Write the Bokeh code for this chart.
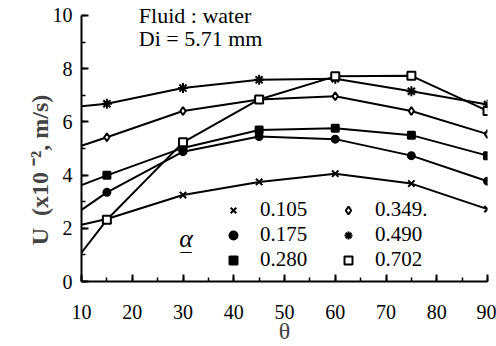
from bokeh.plotting import figure
from bokeh.models import Range1d, Legend, LegendItem, Label, FixedTicker
from bokeh.embed import file_html
from bokeh.resources import INLINE

# ---- data ----
theta = [10, 15, 30, 45, 60, 75, 90]
alpha_labels = ["0.105", "0.175", "0.280", "0.349.", "0.490", "0.702"]
u_0105 = [2.13, 2.35, 3.25, 3.74, 4.05, 3.68, 2.72]
u_0175 = [2.69, 3.35, 4.88, 5.45, 5.35, 4.73, 3.77]
u_0280 = [3.62, 3.99, 5.02, 5.69, 5.76, 5.50, 4.73]
u_0349 = [5.10, 5.42, 6.41, 6.84, 6.96, 6.41, 5.54]
u_0490 = [6.59, 6.68, 7.27, 7.58, 7.62, 7.15, 6.65]
u_0702 = [1.08, 2.32, 5.23, 6.84, 7.71, 7.73, 6.41]
x_ticks = [10, 20, 30, 40, 50, 60, 70, 80, 90]
y_ticks = [0, 2, 4, 6, 8, 10]

series = [u_0105, u_0175, u_0280, u_0349, u_0490, u_0702]
markers = ["x", "circle", "square", "diamond", "asterisk", "square"]
fills = ["black", "black", "black", "white", "black", "white"]
sizes = [9, 7, 7, 8, 10, 8]

FONT = "Liberation Serif"

p = figure(width=496, height=346, output_backend="svg", toolbar_location=None,
           x_range=Range1d(10, 90), y_range=Range1d(0, 10.41),
           min_border_left=81, min_border_right=9, min_border_top=4,
           min_border_bottom=62)
p.outline_line_color = None
p.xgrid.visible = False
p.ygrid.visible = False
p.background_fill_color = "white"

items = []
for vals, mk, fc, sz, lab in zip(series, markers, fills, sizes, alpha_labels):
    p.line(theta, vals, line_color="black", line_width=2)
    r = p.scatter(theta[1:], vals[1:], marker=mk, size=sz, line_color="black",
                  fill_color=fc, line_width=2)
    items.append(LegendItem(label=lab, renderers=[r]))

legend = Legend(items=items, location=(142, 9), ncols=2,
                label_text_font=FONT, label_text_font_size="21px",
                label_text_color="black", label_text_line_height=0.8,
                background_fill_alpha=0, border_line_color=None,
                glyph_width=20, glyph_height=20, label_standoff=17,
                label_width=78, label_height=16, spacing=-4, padding=0, margin=0)
p.add_layout(legend)

p.axis.axis_line_width = 2
p.axis.axis_line_color = "black"
p.axis.major_tick_in = 7
p.axis.major_tick_out = 0
p.axis.minor_tick_in = 4
p.axis.minor_tick_out = 0
p.axis.major_tick_line_width = 2
p.axis.minor_tick_line_width = 1.5
for ax in p.xaxis + p.yaxis:
    ax.major_label_text_font = FONT
    ax.major_label_text_font_style = "normal"
    ax.major_label_text_font_size = "20px"
    ax.major_label_text_color = "black"

p.xaxis.ticker = FixedTicker(ticks=x_ticks, minor_ticks=list(range(10, 91, 5)))
p.yaxis.ticker = FixedTicker(ticks=y_ticks, minor_ticks=list(range(0, 11, 1)))
p.yaxis.bounds = (0, 10)
p.xaxis.major_label_standoff = 23
p.yaxis.major_label_standoff = 9

p.xaxis.axis_label = "θ"
p.xaxis.axis_label_text_font = FONT
p.xaxis.axis_label_text_font_size = "24px"
p.xaxis.axis_label_text_font_style = "normal"
p.xaxis.axis_label_standoff = -4

NB = "\u00a0"
p.yaxis.axis_label = "U" + NB + NB + "(x10" + NB + "⁻², m/s)" + NB * 9
p.yaxis.axis_label_text_font = FONT
p.yaxis.axis_label_text_font_size = "24px"
p.yaxis.axis_label_text_font_style = "bold"
p.yaxis.axis_label_standoff = -3

p.add_layout(Label(x=21.3, y=9.98, text="Fluid : water", text_font=FONT,
                   text_font_size="22px", text_color="black",
                   text_baseline="alphabetic"))
p.add_layout(Label(x=21.3, y=9.12, text="Di = 5.71 mm", text_font=FONT,
                   text_font_size="22px", text_color="black",
                   text_baseline="alphabetic"))
p.add_layout(Label(x=30.6, y=1.6, text="α", text_font=FONT,
                   text_font_size="26px", text_font_style="italic",
                   text_align="center", text_baseline="middle", text_color="black"))
p.add_layout(Label(x=30.6, y=1.6, text="_", text_font=FONT,
                   text_font_size="22px",
                   text_align="center", text_baseline="middle", text_color="black",
                   y_offset=-4))

open("out.html", "w").write(file_html(p, INLINE))
